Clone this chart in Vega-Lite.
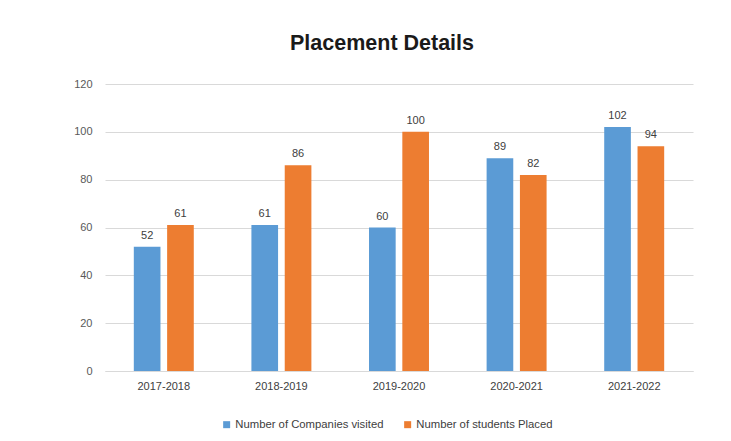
{
  "$schema": "https://vega.github.io/schema/vega-lite/v6.json",
  "width": 588,
  "height": 287,
  "autosize": {"type": "none"},
  "padding": {"left": 105, "top": 84, "right": 38, "bottom": 70},
  "background": "white",
  "title": {
    "text": "Placement Details",
    "font": "Liberation Sans",
    "fontSize": 21.5,
    "fontWeight": "bold",
    "color": "#1a1a1a",
    "anchor": "middle",
    "dx": -17,
    "offset": 24
  },
  "data": {
    "values": [
      {"year": "2017-2018", "series": "Number of Companies visited", "value": 52},
      {"year": "2017-2018", "series": "Number of students Placed", "value": 61},
      {"year": "2018-2019", "series": "Number of Companies visited", "value": 61},
      {"year": "2018-2019", "series": "Number of students Placed", "value": 86},
      {"year": "2019-2020", "series": "Number of Companies visited", "value": 60},
      {"year": "2019-2020", "series": "Number of students Placed", "value": 100},
      {"year": "2020-2021", "series": "Number of Companies visited", "value": 89},
      {"year": "2020-2021", "series": "Number of students Placed", "value": 82},
      {"year": "2021-2022", "series": "Number of Companies visited", "value": 102},
      {"year": "2021-2022", "series": "Number of students Placed", "value": 94}
    ]
  },
  "encoding": {
    "x": {
      "field": "year", "type": "nominal", "title": null,
      "scale": {"paddingInner": 0.49, "paddingOuter": 0.245},
      "axis": {"labelAngle": 0, "ticks": false, "domainColor": "#d9d9d9", "labelPadding": 9, "labelFont": "Liberation Sans", "labelFontSize": 11, "labelColor": "#404040"}
    },
    "xOffset": {"field": "series", "type": "nominal", "scale": {"paddingInner": 0.2, "paddingOuter": 0}},
    "y": {
      "field": "value", "type": "quantitative", "title": null,
      "scale": {"domain": [0, 120]},
      "axis": {"values": [0, 20, 40, 60, 80, 100, 120], "ticks": false, "domain": false, "gridColor": "#d9d9d9", "labelPadding": 13, "labelFont": "Liberation Sans", "labelFontSize": 11, "labelColor": "#595959"}
    }
  },
  "layer": [
    {
      "mark": {"type": "bar"},
      "encoding": {
        "color": {
          "field": "series", "type": "nominal", "title": null,
          "scale": {"range": ["#5b9bd5", "#ed7d31"]},
          "legend": {"orient": "none", "legendX": 116, "legendY": 335, "direction": "horizontal", "symbolType": "square", "symbolSize": 49, "symbolStrokeWidth": 0, "labelFont": "Liberation Sans", "labelFontSize": 11.3, "labelColor": "#404040", "columnPadding": 18, "labelOffset": 3}
        }
      }
    },
    {
      "mark": {"type": "text", "baseline": "bottom", "dy": -6, "font": "Liberation Sans", "fontSize": 11, "color": "#404040"},
      "encoding": {"text": {"field": "value", "type": "quantitative"}}
    }
  ],
  "config": {"view": {"stroke": null}}
}
